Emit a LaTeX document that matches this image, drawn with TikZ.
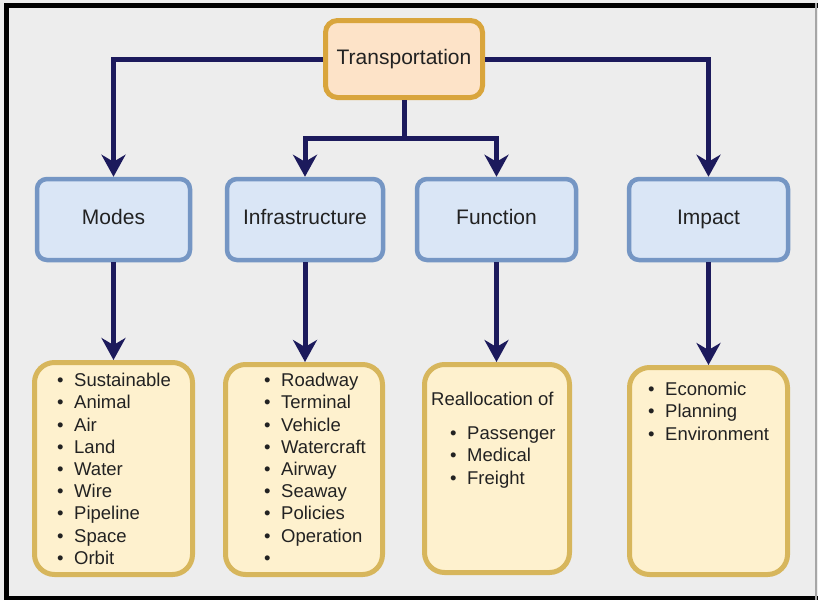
\documentclass[tikz,border=0pt]{standalone}
\usepackage{fontspec}
\setmainfont{Liberation Sans}
\usetikzlibrary{arrows.meta}

\definecolor{bgcol}{HTML}{EDEDED}
\definecolor{inkcol}{HTML}{222222}
\definecolor{navy}{HTML}{1C1A5C}
\definecolor{peachfill}{HTML}{FDE3C8}
\definecolor{peachline}{HTML}{D9A53C}
\definecolor{bluefill}{HTML}{DAE6F6}
\definecolor{blueline}{HTML}{7596C4}
\definecolor{creamfill}{HTML}{FEF1CE}
\definecolor{creamline}{HTML}{D7B65C}

\newcommand{\itm}[1]{\makebox[17pt][l]{\textbullet}#1}

\begin{document}
\begin{tikzpicture}[x=1pt,y=-1pt,
  rootbox/.style={draw=peachline, fill=peachfill, line width=5pt, rounded corners=12pt,
    inner sep=0pt, minimum width=157pt, minimum height=77pt,
    text height=15pt, text depth=4.5pt,
    font=\fontsize{21}{25}\selectfont, text=inkcol},
  topicbox/.style={draw=blueline, fill=bluefill, line width=4.5pt, rounded corners=10pt,
    inner sep=0pt, minimum height=81pt, text height=15pt, text depth=4.5pt,
    font=\fontsize{21}{25}\selectfont, text=inkcol},
  listbox/.style={draw=creamline, fill=creamfill, line width=5pt, rounded corners=20pt,
    inner sep=0pt},
  listtext/.style={anchor=north west, inner sep=0pt, align=left, text=inkcol,
    font=\fontsize{18.5}{22.2}\selectfont},
  link/.style={draw=navy, line width=5pt},
  arr/.style={link, -{Stealth[length=22pt, width=24pt, inset=7pt]}}
]
\useasboundingbox (0,0) rectangle (818,600);
\fill[bgcol] (0,0) rectangle (818,600);

% outer frame
\draw[black, line width=5pt] (6.5,3) -- (6.5,600);
\draw[black, line width=5pt] (4,5.5) -- (818,5.5);
\draw[black, line width=4pt] (4,598) -- (818,598);
\draw[gray!70, line width=1.5pt] (816,3) -- (816,600);

% root
\node[rootbox] (trans) at (404,59) {Transportation};

% topics
\node[topicbox, minimum width=153pt] (modes) at (113.5,219.5) {Modes};
\node[topicbox, minimum width=156pt] (infra) at (305,219.5) {Infrastructure};
\node[topicbox, minimum width=159pt] (func)  at (496.5,219.5) {Function};
\node[topicbox, minimum width=159pt] (impact) at (708.5,219.5) {Impact};

% detail boxes
\node[listbox, minimum width=158pt, minimum height=212pt] (modesL)  at (113.5,468.5) {};
\node[listbox, minimum width=157pt, minimum height=210pt] (infraL)  at (304,469.5) {};
\node[listbox, minimum width=145pt, minimum height=208pt] (funcL)   at (497,468.5) {};
\node[listbox, minimum width=158pt, minimum height=207pt] (impactL) at (708.5,471) {};

% detail texts
\node[listtext] (modesT) at (57,371.5) {\rule{0pt}{15pt}\itm{Sustainable}\\ \itm{Animal}\\ \itm{Air}\\ \itm{Land}\\
  \itm{Water}\\ \itm{Wire}\\ \itm{Pipeline}\\ \itm{Space}\\ \itm{Orbit}};
\node[listtext] (infraT) at (264,371.5) {\rule{0pt}{15pt}\itm{Roadway}\\ \itm{Terminal}\\ \itm{Vehicle}\\ \itm{Watercraft}\\
  \itm{Airway}\\ \itm{Seaway}\\ \itm{Policies}\\ \itm{Operation}\\ \itm{}};
\node[listtext] (funcT) at (431,390) {\rule{0pt}{15pt}Reallocation of\\[12.3pt]
  \hspace{19pt}\itm{Passenger}\\ \hspace{19pt}\itm{Medical}\\ \hspace{19pt}\itm{Freight}};
\node[listtext] (impactT) at (648,380.5) {\rule{0pt}{15pt}\itm{Economic}\\ \itm{Planning}\\ \itm{Environment}};

% connectors from the root
\coordinate (split) at (404,138);
\draw[arr] (trans.west) -| (modes.north);
\draw[arr] (trans.east) -| (impact.north);
\draw[link] (trans.south) -- (split);
\draw[arr] (split) -| (infra.north);
\draw[arr] (split) -| (func.north);

% connectors to the detail boxes
\draw[arr] (modes.south) -- (modesL.north);
\draw[arr] (infra.south) -- (infra.south |- infraL.north);
\draw[arr] (func.south) -- (func.south |- funcL.north);
\draw[arr] (impact.south) -- (impactL.north);
\end{tikzpicture}
\end{document}
